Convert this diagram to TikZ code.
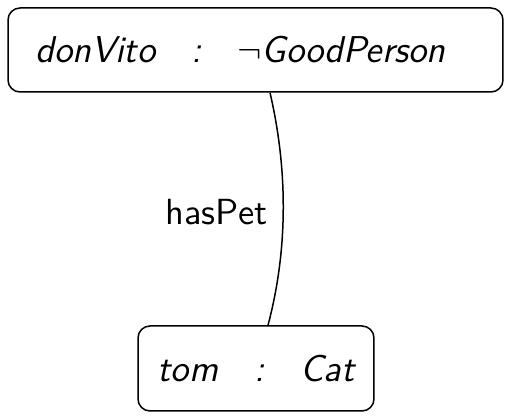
\documentclass[tikz,border=0pt]{standalone}
\usepackage{amsmath}
\usepackage{amssymb}
\usetikzlibrary{positioning}

\tikzset{
  indiv/.style={draw, rounded corners=3.6pt, line width=0.45pt, inner sep=0pt,
                font=\fontsize{11.2}{13}\sffamily\itshape},
}
\newcommand{\sep}{\hspace{10.8pt}:\hspace{10.8pt}}

\begin{document}
\begin{tikzpicture}[x=0.3pt, y=-0.3pt]

\useasboundingbox (0,0) rectangle (512,419);

\node [indiv, minimum width=148.5pt, minimum height=25.2pt] (donVito) at (255.5,50)
  {donVito\sep$\neg$GoodPerson\kern9pt};
\node [indiv, minimum width=70.8pt, minimum height=25.5pt] (tom) at (256,368.5)
  {tom\sep Cat};

\coordinate (from) at (donVito.south -| 270,0);
\coordinate (to) at (tom.north -| 268,0);

\draw [line width=0.45pt] (from) .. controls (288,170) and (288,250) .. (to);

\node [font=\fontsize{10.9}{13}\sffamily, anchor=east, inner sep=0pt] (hasPet) at (268,212) {hasPet};

\end{tikzpicture}
\end{document}
